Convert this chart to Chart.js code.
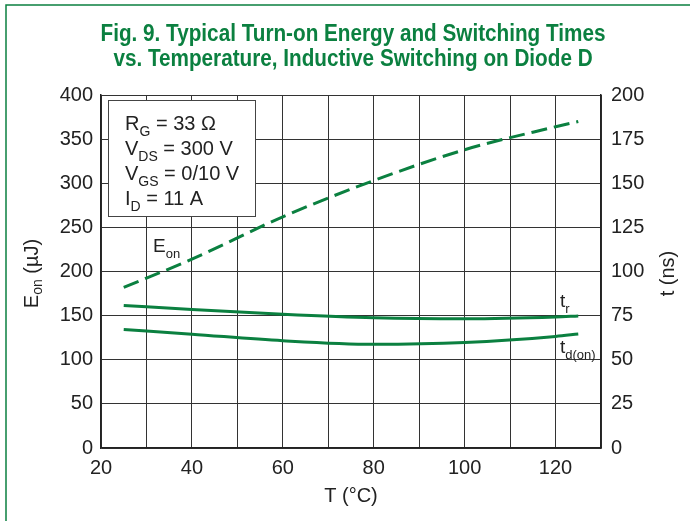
<!DOCTYPE html>
<html>
<head>
<meta charset="utf-8">
<script src="https://cdn.jsdelivr.net/npm/chart.js@4"></script>
<style>
  html, body { margin: 0; padding: 0; background: #fff; }
  #wrap { position: relative; width: 690px; height: 521px; }
</style>
</head>
<body>
<div id="wrap"><canvas id="c" width="690" height="521"></canvas></div>
<script>
// temperature points (°C)
const temps = [25, 40, 60, 80, 100, 120, 125];
// turn-on energy, left axis (µJ)
const eon = [182, 214, 262, 303, 338, 364, 370];
// rise time, right axis (ns)
const tr = [80.8, 78.5, 75.8, 73.8, 73.2, 74.2, 74.8];
// turn-on delay, right axis (ns)
const tdon = [67.2, 64.5, 60.8, 58.8, 59.8, 63.2, 64.6];
const xTicks = [20, 40, 60, 80, 100, 120];

const green = '#0b8040';
const txt = '#222';
const font = 'Liberation Sans, Arial, sans-serif';

function pts(ys) { return temps.map((t, i) => ({ x: t, y: ys[i] })); }

// draws "Main" followed by a smaller lowered subscript
function sub(ctx, x, y, main, s, size) {
  ctx.font = size + 'px ' + font;
  ctx.fillText(main, x, y);
  const w = ctx.measureText(main).width;
  ctx.font = Math.round(size * 0.7) + 'px ' + font;
  ctx.fillText(s, x + w, y + size * 0.32);
  return x + w + ctx.measureText(s).width;
}

const deco = {
  id: 'deco',
  beforeDraw(chart) {
    const ctx = chart.ctx;
    ctx.save();
    ctx.fillStyle = '#fff';
    ctx.fillRect(0, 0, 690, 521);
    // green frame (left + top)
    ctx.strokeStyle = green;
    ctx.lineWidth = 1.5;
    ctx.beginPath();
    ctx.moveTo(6, 521); ctx.lineTo(6, 5); ctx.lineTo(690, 5);
    ctx.stroke();
    // title, squeezed a bit to look condensed
    ctx.fillStyle = green;
    ctx.textAlign = 'center';
    ctx.textBaseline = 'middle';
    ctx.font = 'bold 23px ' + font;
    ctx.translate(353, 0);
    ctx.scale(0.9, 1);
    ctx.fillText('Fig. 9. Typical Turn-on Energy and Switching Times', 0, 35);
    ctx.fillText('vs. Temperature, Inductive Switching on Diode D', 0, 60);
    ctx.restore();
  },
  afterDraw(chart) {
    const ctx = chart.ctx;
    const x = chart.scales.x, yl = chart.scales.y;
    ctx.save();
    // conditions box
    ctx.fillStyle = '#fff';
    ctx.fillRect(108, 100, 148, 117);
    ctx.strokeStyle = '#444';
    ctx.lineWidth = 1;
    ctx.strokeRect(108.5, 100.5, 147, 116);
    ctx.fillStyle = txt;
    ctx.textAlign = 'left';
    ctx.textBaseline = 'alphabetic';
    const fs = 20;
    let e = sub(ctx, 125, 130, 'R', 'G', fs); ctx.font = fs + 'px ' + font; ctx.fillText(' = 33 Ω', e, 130);
    e = sub(ctx, 125, 155, 'V', 'DS', fs); ctx.font = fs + 'px ' + font; ctx.fillText(' = 300 V', e, 155);
    e = sub(ctx, 125, 180, 'V', 'GS', fs); ctx.font = fs + 'px ' + font; ctx.fillText(' = 0/10 V', e, 180);
    e = sub(ctx, 125, 205, 'I', 'D', fs); ctx.font = fs + 'px ' + font; ctx.fillText(' = 11 A', e, 205);
    // curve labels
    sub(ctx, 153, 252, 'E', 'on', 19);
    sub(ctx, 560, 307, 't', 'r', 19);
    sub(ctx, 560, 353, 't', 'd(on)', 19);
    // axis titles
    ctx.save();
    ctx.translate(32, yl.getPixelForValue(200) + 2);
    ctx.rotate(-Math.PI / 2);
    ctx.font = '20px ' + font;
    const wE = ctx.measureText('E').width;
    const wU = ctx.measureText(' (µJ)').width;
    ctx.font = '14px ' + font;
    const wOn = ctx.measureText('on').width;
    const total = wE + wOn + wU;
    ctx.textBaseline = 'middle';
    e = sub(ctx, -total / 2, 0, 'E', 'on', 20);
    ctx.font = '20px ' + font;
    ctx.fillText(' (µJ)', e, 0);
    ctx.restore();
    ctx.save();
    ctx.translate(668, yl.getPixelForValue(200) + 2);
    ctx.rotate(-Math.PI / 2);
    ctx.textAlign = 'center';
    ctx.textBaseline = 'middle';
    ctx.font = '20px ' + font;
    ctx.fillText('t (ns)', 0, 0);
    ctx.restore();
    ctx.textAlign = 'center';
    ctx.textBaseline = 'middle';
    ctx.font = '20px ' + font;
    ctx.fillText('T (°C)', x.getPixelForValue(75), 496);
    ctx.restore();
  }
};

new Chart(document.getElementById('c'), {
  type: 'line',
  data: {
    datasets: [
      { label: 'Eon', data: pts(eon), yAxisID: 'y', borderColor: green, borderWidth: 3, borderDash: [16, 7], cubicInterpolationMode: 'monotone', pointRadius: 0 },
      { label: 'tr', data: pts(tr), yAxisID: 'y2', borderColor: green, borderWidth: 3, cubicInterpolationMode: 'monotone', pointRadius: 0 },
      { label: 'td(on)', data: pts(tdon), yAxisID: 'y2', borderColor: green, borderWidth: 3, cubicInterpolationMode: 'monotone', pointRadius: 0 }
    ]
  },
  options: {
    responsive: false,
    animation: false,
    events: [],
    layout: { padding: { top: 95, left: 0, right: 0, bottom: 0 } },
    plugins: { legend: { display: false }, tooltip: { enabled: false } },
    scales: {
      x: {
        type: 'linear', min: 20, max: 130,
        afterBuildTicks(s) { s.ticks = []; for (let v = 20; v <= 130; v += 10) s.ticks.push({ value: v }); },
        afterFit(s) { s.height = 73; },
        grid: { color: '#333', lineWidth: 1, drawTicks: false },
        border: { color: '#222', width: 1.5 },
        ticks: {
          color: txt, font: { family: font, size: 20 }, padding: 8, maxRotation: 0, autoSkip: false,
          callback: v => xTicks.includes(v) ? String(v) : ''
        }
      },
      y: {
        position: 'left', min: 0, max: 400,
        afterFit(s) { s.width = 101; },
        grid: { color: '#333', lineWidth: 1, drawTicks: false },
        border: { color: '#222', width: 1.5 },
        ticks: { stepSize: 50, color: txt, font: { family: font, size: 20 }, padding: 8 }
      },
      y2: {
        position: 'right', min: 0, max: 200,
        afterFit(s) { s.width = 89; },
        grid: { display: false, drawTicks: false },
        border: { color: '#222', width: 1.5 },
        ticks: { stepSize: 25, color: txt, font: { family: font, size: 20 }, padding: 10 }
      }
    }
  },
  plugins: [deco]
});
</script>
</body>
</html>
